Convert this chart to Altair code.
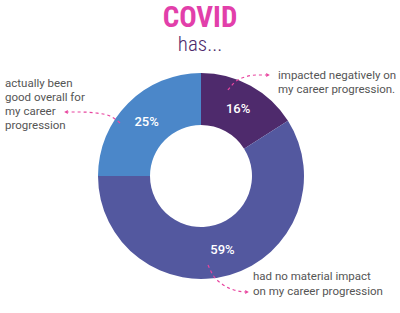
import altair as alt
import pandas as pd

# ---- data ----
categories = ["impacted negatively", "no material impact", "good overall"]
values = [16, 59, 25]
pct_labels = ["16%", "59%", "25%"]
slice_colors = ["#4E2A6C", "#53589F", "#4B87C9"]

title_text = "COVID"
subtitle_text = "has..."

note_left = ["actually been", "good overall for", "my career", "progression"]
note_top = ["impacted negatively on", "my career progression."]
note_bottom = ["had no material impact", "on my career progression"]

# ---- layout (pixel space) ----
W, H = 400, 313
CX, CY = 201, 176
R_OUT, R_IN = 103, 51
LINE_H = 14
NARROW = "Roboto Condensed, Roboto"

slices = pd.DataFrame({"cat": categories, "value": values, "label": pct_labels,
                       "idx": list(range(len(values)))})

notes = []
for i, t in enumerate(note_left):
    notes.append({"t": t, "x": 5, "y": 84 + i * LINE_H})
for i, t in enumerate(note_top):
    notes.append({"t": t, "x": 278, "y": 76 + i * LINE_H})
for i, t in enumerate(note_bottom):
    notes.append({"t": t, "x": 253, "y": 277 + i * 15})
notes = pd.DataFrame(notes)

arrows = pd.DataFrame([
    {"g": "a", "o": 0, "x": 120, "y": 123}, {"g": "a", "o": 1, "x": 110, "y": 116},
    {"g": "a", "o": 2, "x": 96, "y": 113}, {"g": "a", "o": 3, "x": 80, "y": 112},
    {"g": "a", "o": 4, "x": 68, "y": 112},
    {"g": "b", "o": 0, "x": 228, "y": 90}, {"g": "b", "o": 1, "x": 235, "y": 82},
    {"g": "b", "o": 2, "x": 245, "y": 77}, {"g": "b", "o": 3, "x": 257, "y": 75},
    {"g": "b", "o": 4, "x": 266, "y": 75},
    {"g": "c", "o": 0, "x": 208, "y": 265}, {"g": "c", "o": 1, "x": 213, "y": 275},
    {"g": "c", "o": 2, "x": 222, "y": 284}, {"g": "c", "o": 3, "x": 234, "y": 290},
    {"g": "c", "o": 4, "x": 245, "y": 292},
])
heads = pd.DataFrame([
    {"x": 66, "y": 112, "s": "triangle-left"},
    {"x": 268, "y": 75, "s": "triangle-right"},
    {"x": 247, "y": 292, "s": "triangle-right"},
])

xs = alt.Scale(domain=[0, W], range=[0, W])
ys = alt.Scale(domain=[0, H], range=[0, H])
X = lambda: alt.X("x:Q", scale=xs, axis=None)
Y = lambda: alt.Y("y:Q", scale=ys, axis=None)

MAGENTA = "#E8459F"

arcs = alt.Chart(slices).mark_arc(outerRadius=R_OUT, innerRadius=R_IN, stroke=None).encode(
    theta=alt.Theta("value:Q", stack=True),
    order=alt.Order("idx:Q"),
    color=alt.Color("cat:N", scale=alt.Scale(domain=categories, range=slice_colors), legend=None),
    x=alt.value(CX), y=alt.value(CY),
)

pct = alt.Chart(slices).mark_text(radius=77, font="Roboto", fontSize=13, fontWeight=500,
                                   color="white").encode(
    theta=alt.Theta("value:Q", stack=True),
    order=alt.Order("idx:Q"),
    text="label:N",
    x=alt.value(CX), y=alt.value(CY),
)

lines = alt.Chart(arrows).mark_line(color=MAGENTA, strokeDash=[3, 3], strokeWidth=1.2,
                                     interpolate="monotone").encode(
    x=X(), y=Y(), detail="g:N", order="o:Q")

tips = alt.Chart(heads).mark_point(filled=True, color=MAGENTA, size=18, opacity=1).encode(
    x=X(), y=Y(), shape=alt.Shape("s:N", scale=None))

note_text = alt.Chart(notes).mark_text(align="left", baseline="middle", font="Roboto",
                                        fontSize=11.5, fontWeight=400, color="#555555").encode(
    x=X(), y=Y(), text="t:N")

titles = pd.DataFrame({"t": [title_text, subtitle_text], "x": [W / 2, W / 2], "y": [18, 45],
                       "k": ["a", "b"]})
title_mark = alt.Chart(titles).transform_filter("datum.k == 'a'").mark_text(
    font=NARROW, fontSize=29, fontWeight="bold", color="#E23FAA",
    baseline="middle").encode(x=X(), y=Y(), text="t:N")
sub_mark = alt.Chart(titles).transform_filter("datum.k == 'b'").mark_text(
    font=NARROW, fontSize=21, fontWeight=300, color="#4E2A6C", baseline="middle").encode(
    x=X(), y=Y(), text="t:N")

chart = alt.layer(arcs, pct, lines, tips, note_text, title_mark, sub_mark).properties(
    width=W, height=H, padding=0, autosize="none", background="white"
).configure_view(stroke=None).resolve_scale(color="independent")

chart.save("out.html", embed_options={"renderer": "svg", "actions": False})
